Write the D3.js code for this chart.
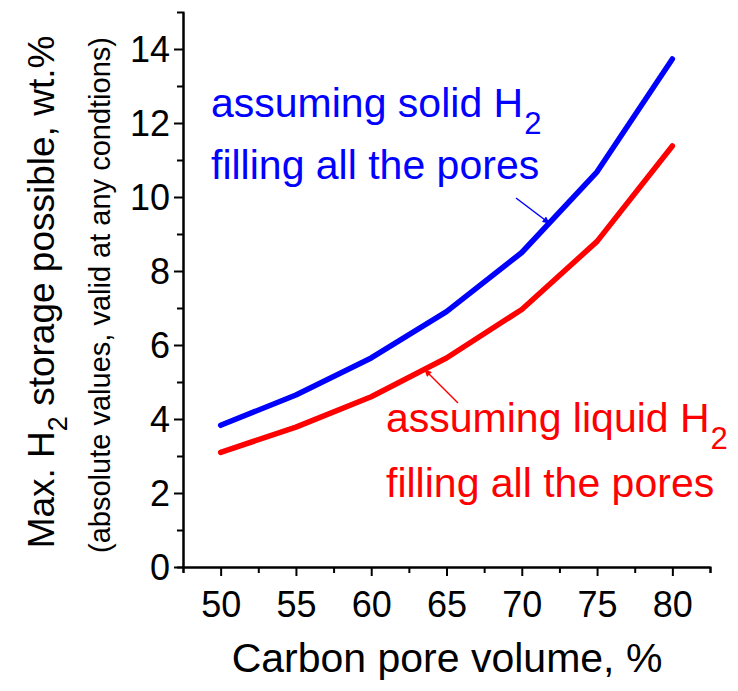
<!DOCTYPE html>
<html><head><meta charset="utf-8">
<script src="https://cdn.jsdelivr.net/npm/d3@7"></script>
<style>body{margin:0;background:#fff}svg{display:block}text{font-family:"Liberation Sans",Arial,sans-serif}</style>
</head><body>
<script>
const porevol = [50,55,60,65,70,75,80];
const solidH2 = [3.83,4.65,5.65,6.9,8.5,10.68,13.73];
const liquidH2 = [3.1,3.78,4.6,5.65,6.96,8.8,11.38];
const xTicks = [50,55,60,65,70,75,80];
const yTicks = [0,2,4,6,8,10,12,14];

const W=738,H=691;
const svg=d3.select("body").append("svg").attr("width",W).attr("height",H);
const x=d3.scaleLinear().domain([47.5,82.5]).range([183,710]);
const y=d3.scaleLinear().domain([0,15]).range([567,12]);

// axes
const gx=svg.append("g").attr("transform","translate(0,567)");
gx.call(d3.axisBottom(x).tickValues(xTicks).tickSize(9).tickSizeOuter(0).tickFormat(d3.format("d")));
gx.append("g").call(d3.axisBottom(x).tickValues(d3.range(47.5,83,5)).tickSize(6).tickFormat(""));
const gy=svg.append("g").attr("transform","translate(183,0)");
gy.call(d3.axisLeft(y).tickValues(yTicks).tickSize(9).tickSizeOuter(0));
gy.append("g").call(d3.axisLeft(y).tickValues(d3.range(1,15,2)).tickSize(6).tickFormat(""));
svg.selectAll(".domain").attr("stroke","#000").attr("stroke-width",2);
svg.selectAll(".tick line").attr("stroke","#000").attr("stroke-width",2);
svg.selectAll(".tick text").attr("font-size",36).attr("fill","#000").attr("font-family","Liberation Sans, Arial, sans-serif");
gx.selectAll(".tick text").attr("y",0).attr("dy",0).attr("transform","translate(0,50)");
gy.selectAll(".tick text").attr("x",-13).attr("dy","0.35em");

// lines
const line=d3.line().x((d,i)=>x(porevol[i])).y(d=>y(d));
svg.append("path").datum(solidH2).attr("d",line).attr("fill","none").attr("stroke","#0000ff").attr("stroke-width",5.5).attr("stroke-linecap","round").attr("stroke-linejoin","round");
svg.append("path").datum(liquidH2).attr("d",line).attr("fill","none").attr("stroke","#ff0000").attr("stroke-width",5.5).attr("stroke-linecap","round").attr("stroke-linejoin","round");

// arrows
const defs=svg.append("defs");
[["ab","#0000ff"],["ar","#ff0000"]].forEach(([id,c])=>{
  defs.append("marker").attr("id",id).attr("viewBox","0 0 10 10").attr("refX",9).attr("refY",5)
   .attr("markerWidth",10).attr("markerHeight",7).attr("orient","auto").attr("markerUnits","userSpaceOnUse")
   .append("path").attr("d","M0,0L10,5L0,10z").attr("fill",c);
});
svg.append("line").attr("x1",516).attr("y1",198).attr("x2",549).attr("y2",223).attr("stroke","#0000ff").attr("stroke-width",1.5).attr("marker-end","url(#ab)");
svg.append("line").attr("x1",458).attr("y1",403).attr("x2",425).attr("y2",370).attr("stroke","#ff0000").attr("stroke-width",1.5).attr("marker-end","url(#ar)");

// annotations
function h2label(xp,yp,txt,col){
  const t=svg.append("text").attr("x",xp).attr("y",yp).attr("fill",col).attr("font-size",41);
  t.append("tspan").text(txt);
  t.append("tspan").attr("font-size",31).attr("dy",17).attr("dx",1).text("2");
}
h2label(211,117,"assuming solid H","#0000ff");
svg.append("text").attr("x",211).attr("y",179).attr("fill","#0000ff").attr("font-size",41).text("filling all the pores");
h2label(386,432,"assuming liquid H","#ff0000");
svg.append("text").attr("x",386).attr("y",497).attr("fill","#ff0000").attr("font-size",41).text("filling all the pores");

// axis titles
svg.append("text").attr("x",447).attr("y",672).attr("text-anchor","middle").attr("font-size",41).attr("fill","#000").text("Carbon pore volume, %");
const yl=svg.append("text").attr("transform","translate(54,292) rotate(-90)").attr("text-anchor","middle").attr("font-size",37).attr("fill","#000");
yl.append("tspan").text("Max. H");
yl.append("tspan").attr("font-size",27).attr("dy",13).text("2");
yl.append("tspan").attr("dy",-13).text(" storage possible, wt.%");
svg.append("text").attr("transform","translate(110,295) rotate(-90)").attr("text-anchor","middle").attr("font-size",29).attr("fill","#000").text("(absolute values, valid at any condtions)");
</script>
</body></html>
